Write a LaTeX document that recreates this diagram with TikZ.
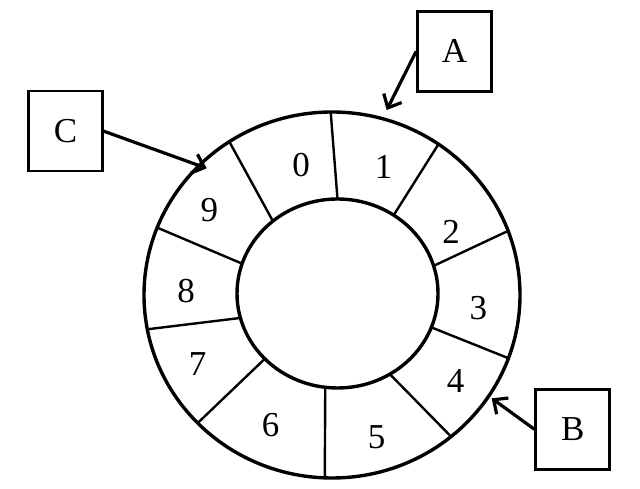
\documentclass[tikz,border=0pt]{standalone}
\usepackage{fontspec}
\setmainfont{Liberation Serif}
\usetikzlibrary{arrows.meta,calc}

\begin{document}
\begin{tikzpicture}[x=1pt,y=1pt,
	lbl/.style={inner sep=0pt, font=\fontsize{35}{40}\selectfont},
	pbox/.style={draw, line width=2.6pt, minimum width=74pt, minimum height=80pt, inner sep=0pt, font=\fontsize{35}{40}\selectfont},
	ptr/.style={line width=3.2pt, -{Straight Barb[length=11pt,width=20pt]}}]
	\useasboundingbox (0,0) rectangle (640,489);
	\coordinate (o) at (332,194);
	\coordinate (i) at (337.5,195.5);
	\draw[line width=3.4pt] (o) ellipse [x radius=188, y radius=183];
	\draw[line width=3.4pt] (i) ellipse [x radius=100.5, y radius=94.5];
	\foreach \a/\b in {90.4/90, 55.5/56, 20.5/17, -20.2/-21, -50.7/-58.6, -92.2/-97, 224.4/223.7, 190.8/195, 158.4/161.6, 123.1/130}
		\draw[line width=2.4pt] ($(o)+(\a:188 and 183)$) -- ($(i)+(\b:100.5 and 94.5)$);
	\foreach \k/\x/\y in {0/301/324, 1/383.5/322, 2/451/257, 3/478.3/181, 4/455.7/108.5, 5/376.7/52, 6/270.5/64.3, 7/197.5/125, 8/186.2/198.2, 9/209.3/279}
		\node (n\k) [lbl] at (\x,\y) {\k};
	\node (A) [pbox] at (454.5,437.7) {A};
	\node (C) [pbox] at (65.5,357.8) {C};
	\node (B) [pbox] at (572.7,59.7) {B};
	\coordinate (ta) at (386.7,379);
	\coordinate (tc) at (206.7,320.7);
	\coordinate (tb) at (491.7,90.7);
	\draw[ptr] (A.west) -- (ta);
	\draw[ptr] (C.east) -- (tc);
	\draw[ptr] (B.west) -- (tb);
\end{tikzpicture}
\end{document}
